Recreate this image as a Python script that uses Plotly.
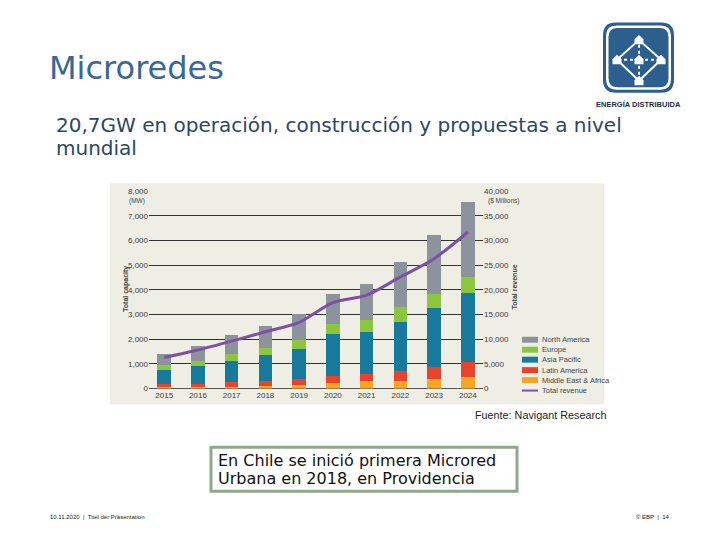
import plotly.graph_objects as go

years = ["2015", "2016", "2017", "2018", "2019", "2020", "2021", "2022", "2023", "2024"]
middle_east_africa = [60, 60, 80, 100, 150, 210, 300, 320, 390, 470]
latin_america = [140, 140, 190, 220, 240, 290, 300, 410, 470, 590]
asia_pacific = [540, 730, 860, 1020, 1210, 1690, 1710, 1960, 2390, 2820]
europe = [200, 200, 270, 310, 380, 430, 470, 630, 570, 650]
north_america = [460, 580, 780, 900, 1020, 1200, 1440, 1800, 2390, 3040]
total_revenue = [6300, 7800, 9600, 11500, 13400, 17400, 18900, 22600, 26300, 31700]

series = [
    ("Middle East & Africa", middle_east_africa, "#f5a623"),
    ("Latin America", latin_america, "#e8432c"),
    ("Asia Pacific", asia_pacific, "#17799b"),
    ("Europe", europe, "#8cc63e"),
    ("North America", north_america, "#8d939c"),
]
rev_color = "#7b52a3"

W, H = 720, 540


def px(x):
    return x / W


def py(y):
    # compensate the slight vertical squeeze of the capture
    ys = (y - 3.0) / 0.987
    return 1 - ys / H


fig = go.Figure()
for name, vals, col in series:
    fig.add_trace(go.Bar(x=years, y=vals, name=name, marker=dict(color=col, line=dict(width=0)),
                         width=0.4))
fig.add_trace(go.Scatter(x=years, y=total_revenue, name="Total revenue", yaxis="y2", mode="lines",
                         line=dict(color=rev_color, width=3, shape="spline", smoothing=0.8)))

shapes = []
annotations = []

# chart image background
shapes.append(dict(type="rect", xref="paper", yref="paper", x0=px(110), x1=px(604), y0=py(405), y1=py(183),
                   fillcolor="#efeee5", line=dict(width=0), layer="below"))

# manual legend
leg = [("North America", "#8d939c", 340), ("Europe", "#8cc63e", 350), ("Asia Pacific", "#17799b", 360),
       ("Latin America", "#e8432c", 370.5), ("Middle East & Africa", "#f5a623", 380.5)]
for name, col, yy in leg:
    shapes.append(dict(type="rect", xref="paper", yref="paper", x0=px(522), x1=px(538), y0=py(yy + 3),
                       y1=py(yy - 3), fillcolor=col, line=dict(width=0)))
    annotations.append(dict(text=name, x=px(539.5), y=py(yy), xref="paper", yref="paper", xanchor="left",
                            yanchor="middle", showarrow=False,
                            font=dict(family="Liberation Sans", size=7.5, color="#444")))
shapes.append(dict(type="line", xref="paper", yref="paper", x0=px(522), x1=px(538), y0=py(391), y1=py(391),
                   line=dict(color=rev_color, width=2)))
annotations.append(dict(text="Total revenue", x=px(539.5), y=py(390.5), xref="paper", yref="paper",
                        xanchor="left", yanchor="middle", showarrow=False,
                        font=dict(family="Liberation Sans", size=7.5, color="#444")))

small = dict(family="Liberation Sans", size=6.5, color="#444")
annotations += [
    dict(text="(MW)", x=px(127), y=py(201), xref="paper", yref="paper", xanchor="left", yanchor="middle",
         showarrow=False, font=small),
    dict(text="($ Millions)", x=px(486), y=py(200.5), xref="paper", yref="paper", xanchor="left",
         yanchor="middle", showarrow=False, font=small),
    dict(text="<b>Total capacity</b>", x=px(120), y=py(289), xref="paper", yref="paper", textangle=-90,
         showarrow=False, font=dict(family="Liberation Sans", size=7, color="#444")),
    dict(text="<b>Total revenue</b>", x=px(520), y=py(287), xref="paper", yref="paper", textangle=-90,
         showarrow=False, font=dict(family="Liberation Sans", size=7, color="#444")),
    dict(text="Fuente: Navigant Research", x=px(473), y=py(416), xref="paper", yref="paper", xanchor="left",
         yanchor="middle", showarrow=False, font=dict(family="Liberation Sans", size=10.8, color="#222")),
]

# slide texts
annotations += [
    dict(text="Microredes", x=px(47), y=py(67), xref="paper", yref="paper", xanchor="left", yanchor="middle",
         showarrow=False, font=dict(family="DejaVu Sans", size=32, color="#3a6894")),
    dict(text="20,7GW en operación, construcción y propuestas a nivel", x=px(54), y=py(124), xref="paper",
         yref="paper", xanchor="left", yanchor="middle", showarrow=False,
         font=dict(family="DejaVu Sans", size=20, color="#2b4766")),
    dict(text="mundial", x=px(54), y=py(148), xref="paper", yref="paper", xanchor="left", yanchor="middle",
         showarrow=False, font=dict(family="DejaVu Sans", size=20, color="#2b4766")),
    dict(text="En Chile se inició primera Microred", x=px(216), y=py(461), xref="paper", yref="paper",
         xanchor="left", yanchor="middle", showarrow=False,
         font=dict(family="DejaVu Sans", size=16, color="#111")),
    dict(text="Urbana en 2018, en Providencia", x=px(216), y=py(479), xref="paper", yref="paper",
         xanchor="left", yanchor="middle", showarrow=False,
         font=dict(family="DejaVu Sans", size=16, color="#111")),
    dict(text="10.11.2020  |  Titel der Präsentation", x=px(48), y=py(518), xref="paper", yref="paper",
         xanchor="left", yanchor="middle", showarrow=False,
         font=dict(family="Liberation Sans", size=6, color="#222")),
    dict(text="© EBP  |  14", x=px(672), y=py(518), xref="paper", yref="paper", xanchor="right",
         yanchor="middle", showarrow=False, font=dict(family="Liberation Sans", size=6, color="#222")),
    dict(text="<b>ENERGÍA DISTRIBUIDA</b>", x=px(638), y=py(103.5), xref="paper", yref="paper",
         xanchor="center", yanchor="middle", showarrow=False,
         font=dict(family="Liberation Sans", size=7.5, color="#1e2c48")),
]

# text box
shapes.append(dict(type="rect", xref="paper", yref="paper", x0=px(211), x1=px(517), y0=py(492), y1=py(448),
                   fillcolor="white", line=dict(color="#8fa98b", width=3), layer="below"))


# logo
def rrect(x0, y0, x1, y1, r):
    pts = [("M", x0 + r, y0), ("L", x1 - r, y0), ("Q", x1, y0, x1, y0 + r), ("L", x1, y1 - r),
           ("Q", x1, y1, x1 - r, y1), ("L", x0 + r, y1), ("Q", x0, y1, x0, y1 - r), ("L", x0, y0 + r),
           ("Q", x0, y0, x0 + r, y0)]
    s = ""
    for p in pts:
        cmd = p[0]
        coords = p[1:]
        cs = []
        for i in range(0, len(coords), 2):
            cs.append(f"{px(coords[i]):.5f},{py(coords[i + 1]):.5f}")
        s += cmd + " " + " ".join(cs) + " "
    return s + "Z"


logo_blue = "#2c5e8e"
shapes.append(dict(type="path", xref="paper", yref="paper", path=rrect(603, 21.5, 674, 92, 13),
                   fillcolor=logo_blue, line=dict(width=0)))
shapes.append(dict(type="path", xref="paper", yref="paper", path=rrect(606, 24.5, 671, 89, 10.5),
                   fillcolor="white", line=dict(width=0)))
shapes.append(dict(type="path", xref="paper", yref="paper", path=rrect(608.5, 27, 668.5, 86.5, 9),
                   fillcolor=logo_blue, line=dict(width=0)))

nodes = {"t": (639, 39), "l": (617, 59), "c": (639, 59), "r": (661, 59), "b": (639, 80)}
for a, b in [("t", "l"), ("t", "r"), ("l", "b"), ("r", "b")]:
    shapes.append(dict(type="line", xref="paper", yref="paper", x0=px(nodes[a][0]), y0=py(nodes[a][1]),
                       x1=px(nodes[b][0]), y1=py(nodes[b][1]), line=dict(color="white", width=2)))
for k in ["t", "l", "r", "b"]:
    shapes.append(dict(type="line", xref="paper", yref="paper", x0=px(nodes["c"][0]), y0=py(nodes["c"][1]),
                       x1=px(nodes[k][0]), y1=py(nodes[k][1]), line=dict(color="white", width=2, dash="dot")))
for k, (cx, cy) in nodes.items():
    pts = [(cx - 4.5, cy + 4.5), (cx - 4.5, cy - 0.5), (cx, cy - 5), (cx + 4.5, cy - 0.5), (cx + 4.5, cy + 4.5)]
    path = "M " + " L ".join(f"{px(x):.5f},{py(y):.5f}" for x, y in pts) + " Z"
    shapes.append(dict(type="path", xref="paper", yref="paper", path=path, fillcolor="white",
                       line=dict(width=0)))

tickfont = dict(family="Liberation Sans", size=8, color="#3a3a3a")
fig.update_layout(
    width=W, height=H, margin=dict(l=0, r=0, t=0, b=0),
    paper_bgcolor="white", plot_bgcolor="rgba(0,0,0,0)",
    barmode="stack", bargap=0.6, showlegend=False,
    xaxis=dict(domain=[px(149), px(483)], type="category", range=[-0.45, 9.45], showgrid=False,
               tickfont=tickfont, ticks="", showline=False, zeroline=False),
    yaxis=dict(domain=[py(389), py(190.7)], range=[0, 8000], dtick=1000, tickformat=",", showgrid=True,
               gridcolor="#333", gridwidth=1, tickfont=tickfont, ticks="", zeroline=True,
               zerolinecolor="#555", zerolinewidth=1),
    yaxis2=dict(overlaying="y", side="right", anchor="x", range=[0, 40000], dtick=5000, tickformat=",",
                showgrid=False, tickfont=tickfont, ticks="", zeroline=False),
    shapes=shapes, annotations=annotations,
)

post = (
    "document.documentElement.style.margin='0';document.documentElement.style.padding='0';"
    "document.documentElement.style.overflow='hidden';"
    "document.body.style.margin='0';document.body.style.padding='0';document.body.style.overflow='hidden';"
    "var d=document.getElementById('{plot_id}');d.style.display='block';"
    "if(d.parentElement){d.parentElement.style.margin='0';d.parentElement.style.lineHeight='0';}"
)
fig.write_html("out.html", config={"displayModeBar": False}, post_script=post)
